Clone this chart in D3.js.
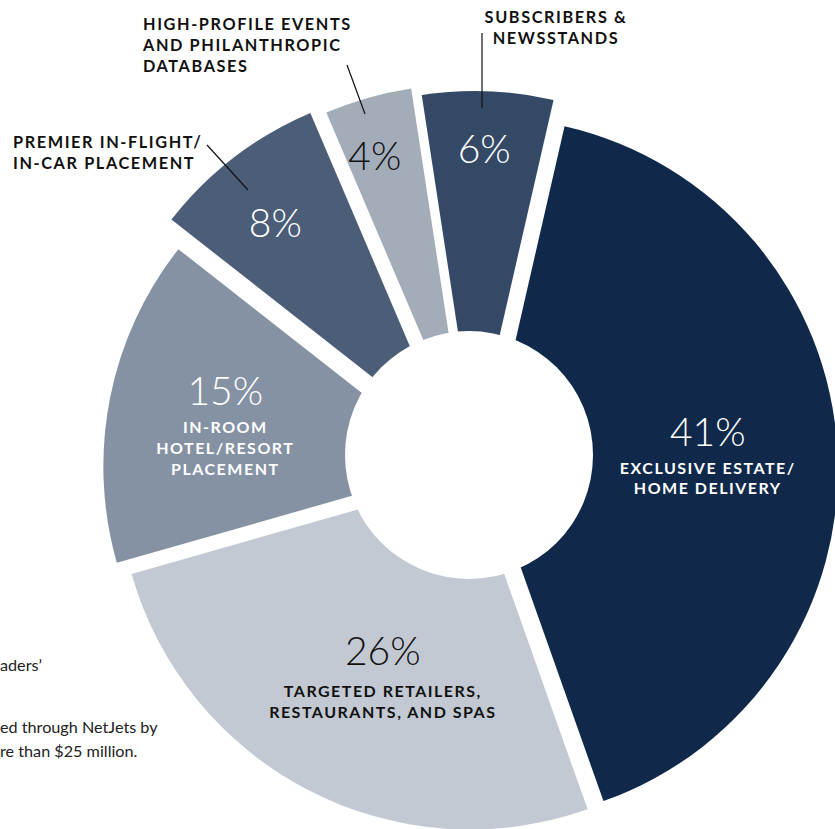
<!DOCTYPE html>
<html>
<head>
<meta charset="utf-8">
<script src="https://cdn.jsdelivr.net/npm/d3@7"></script>
<style>
  html, body { margin: 0; padding: 0; background: #ffffff; overflow: hidden; }
  svg { display: block; }
</style>
</head>
<body>
<div id="chart"></div>
<script>
// ---- data ----
const categories = [
  "EXCLUSIVE ESTATE/ HOME DELIVERY",
  "TARGETED RETAILERS, RESTAURANTS, AND SPAS",
  "IN-ROOM HOTEL/RESORT PLACEMENT",
  "PREMIER IN-FLIGHT/ IN-CAR PLACEMENT",
  "HIGH-PROFILE EVENTS AND PHILANTHROPIC DATABASES",
  "SUBSCRIBERS & NEWSSTANDS"
];
const values = [41, 26, 15, 8, 4, 6];
const valueLabels = ["41%", "26%", "15%", "8%", "4%", "6%"];
const insideLines = [
  ["EXCLUSIVE ESTATE/", "HOME DELIVERY"],
  ["TARGETED RETAILERS,", "RESTAURANTS, AND SPAS"],
  ["IN-ROOM", "HOTEL/RESORT", "PLACEMENT"],
  [], [], []
];
const outsideLines = [
  [], [], [],
  ["PREMIER IN-FLIGHT/", "IN-CAR PLACEMENT"],
  ["HIGH-PROFILE EVENTS", "AND PHILANTHROPIC", "DATABASES"],
  ["SUBSCRIBERS &", "NEWSSTANDS"]
];
const noteLines = ["aders’", "ed through NetJets by", "re than $25 million."];

// ---- style / layout ----
const W = 835, H = 829;
const cx = 474, cy = 470, R = 352;
const holeDx = -5, holeDy = -15, holeR = 124;
const startDeg = 12.9;
const explode = [12, 8.5, 19, 42, 35, 27];
const colors = ["#10294a", "#c3c9d2", "#8592a3", "#4b5d77", "#a3adba", "#344966"];
const textColors = ["#ffffff", "#111111", "#ffffff", "#ffffff", "#111111", "#ffffff"];
const labelNudge = [-2.6, -2.2, 3.5, -3.0, -2.4, -0.2];
const labelRad = [235, 215, 257, 306, 316, 307];
const lineOffsets = [[28, 48], [32, 53], [28, 49, 70]];

const svg = d3.select("#chart").append("svg")
  .attr("width", W).attr("height", H)
  .style("font-family", "Lato, 'Open Sans', sans-serif");

const rad = d => d * Math.PI / 180;
const pie = d3.pie().sort(null).value(d => d)
  .startAngle(rad(startDeg)).endAngle(rad(startDeg) + 2 * Math.PI);
const arcs = pie(values);
const arc = d3.arc().innerRadius(0).outerRadius(R);

const g = svg.append("g").attr("transform", `translate(${cx},${cy})`);

g.selectAll("path.slice").data(arcs).join("path")
  .attr("class", "slice")
  .attr("d", arc)
  .attr("fill", (d, i) => colors[i])
  .attr("transform", (d, i) => {
    const a = (d.startAngle + d.endAngle) / 2;
    return `translate(${explode[i] * Math.sin(a)},${-explode[i] * Math.cos(a)})`;
  });

g.append("circle").attr("cx", holeDx).attr("cy", holeDy).attr("r", holeR).attr("fill", "#ffffff");

// inside labels
arcs.forEach((d, i) => {
  const a = (d.startAngle + d.endAngle) / 2 + rad(labelNudge[i]);
  const x = labelRad[i] * Math.sin(a), y = -labelRad[i] * Math.cos(a);
  g.append("text").attr("x", x).attr("y", y)
    .attr("text-anchor", "middle")
    .attr("fill", textColors[i])
    .style("font-size", "39px").style("font-weight", 300)
    .text(valueLabels[i]);
  insideLines[i].forEach((ln, j) => {
    g.append("text").attr("x", x).attr("y", y + lineOffsets[i][j])
      .attr("text-anchor", "middle")
      .attr("fill", textColors[i])
      .style("font-size", "16px").style("font-weight", 700)
      .style("letter-spacing", "1.5px")
      .text(ln);
  });
});

// outside labels with leaders
const outsidePos = [null, null, null,
  {x: 13, y: 148, anchor: "start"},
  {x: 143, y: 30, anchor: "start"},
  {x: 556, y: 23, anchor: "middle"}];
const leaders = [null, null, null,
  [[207, 145], [248, 190]],
  [[347, 65], [365, 114]],
  [[482, 33], [482, 108]]];

outsideLines.forEach((lines, i) => {
  if (!lines.length) return;
  const p = outsidePos[i];
  lines.forEach((ln, j) => {
    svg.append("text").attr("x", p.x).attr("y", p.y + j * 21)
      .attr("text-anchor", p.anchor)
      .attr("fill", "#111111")
      .style("font-size", "16.3px").style("font-weight", 700)
      .style("letter-spacing", "1.6px")
      .text(ln);
  });
  const L = leaders[i];
  svg.append("line")
    .attr("x1", L[0][0]).attr("y1", L[0][1])
    .attr("x2", L[1][0]).attr("y2", L[1][1])
    .attr("stroke", "#111111").attr("stroke-width", 1.2);
});

// partial body text at left edge
const noteY = [671, 733, 757];
noteLines.forEach((t, i) => {
  svg.append("text").attr("x", 0).attr("y", noteY[i])
    .attr("fill", "#222222")
    .style("font-size", "16.2px")
    .text(t);
});
</script>
</body>
</html>
